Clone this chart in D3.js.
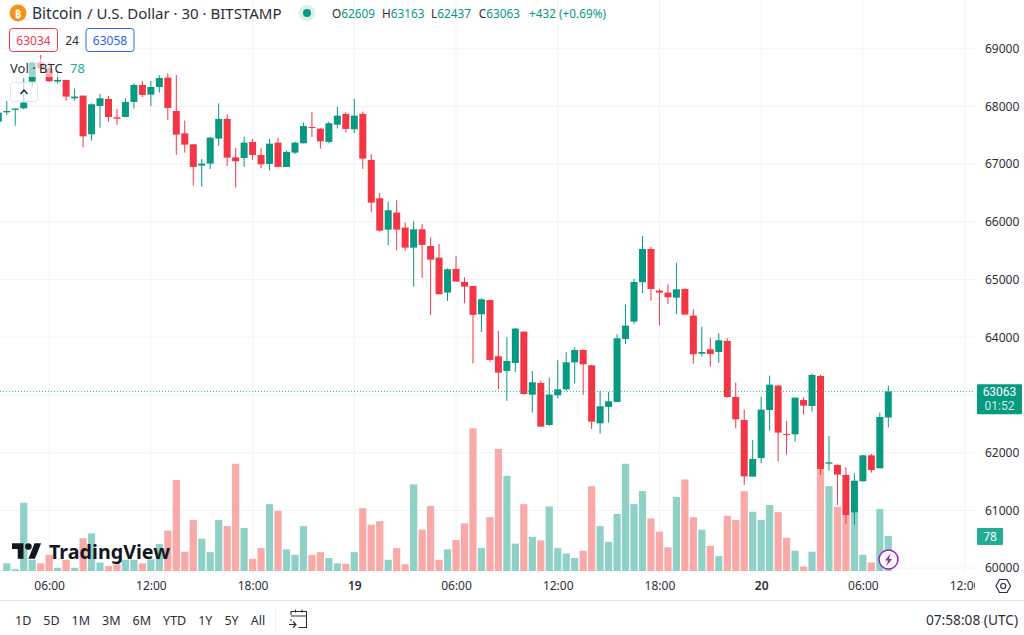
<!DOCTYPE html>
<html>
<head>
<meta charset="utf-8">
<script src="https://cdn.jsdelivr.net/npm/d3@7"></script>
<style>
  html, body { margin: 0; padding: 0; background: #fff; overflow: hidden; }
  text { font-family: "Noto Sans", sans-serif; fill: #2a2e39; }
  .domain { display: none; }
</style>
</head>
<body>
<div id="chart"></div>
<script>
var opens = [67736,67898,67939,67967,68430,68759,68661,68430,68459,68141,68187,67517,68008,68129,67811,67817,68077,68372,68204,68337,68499,67921,67534,67344,66974,67009,67442,67783,67118,67107,67384,67159,67003,67372,66951,67199,67361,67644,67615,67384,67684,67870,67604,67870,67073,66408,65865,66160,65900,65553,65871,65582,65380,64774,65184,64958,64889,64398,64646,63670,63416,63555,64098,63006,63208,62480,62994,63098,63566,63780,63514,62509,62792,62879,63971,64271,64953,65530,64808,64774,64687,64837,64375,63716,63792,63745,63936,62965,62567,61585,61908,62740,63162,62324,62318,62913,62809,63329,61810,61787,61614,60961,61504,61954,61729,62609];
var highs = [67910,68095,67967,68487,68776,68892,68759,68603,68459,68308,68187,68054,68216,68181,67956,68141,68401,68441,68441,68539,68574,68545,67754,67344,67089,67476,68054,67863,67280,67476,67436,67274,67436,67459,67234,67390,67719,67904,67627,67736,67996,67899,68130,67910,67171,66501,66351,66374,65987,66010,65964,65727,65617,65195,65409,65039,64889,64675,64646,64109,63999,64161,64098,63416,63248,63300,63601,63740,63826,63792,63526,63069,63052,64051,64566,65010,65756,65565,64837,64918,65294,64849,64485,64184,63994,64069,63982,63214,62746,62220,62965,63335,63173,62549,62954,62960,63370,63347,62289,61798,61746,61642,61960,61978,62694,63163];
var lows = [67736,67852,67667,67950,68331,68603,68430,68389,68100,68100,67292,67407,67632,67736,67679,67817,67962,68164,68008,68239,67765,67159,67199,66627,66610,66916,67315,66968,66593,66951,67072,66928,66893,66945,66951,67176,67361,67471,67268,67361,67621,67547,67535,66917,66166,65831,65594,65507,65501,64878,65028,64387,64745,64629,64964,64589,63549,64092,63578,63098,62896,63399,63006,62694,62451,62469,62942,63064,63202,63006,62411,62330,62521,62879,63884,64231,64768,64635,64207,64577,64398,64392,63543,63664,63491,63555,62954,62422,61440,61585,61816,62382,61850,61966,62191,62659,62711,61614,61689,61094,60764,60753,61498,61654,61729,62437];
var closes = [67892,67921,67962,68066,68759,68661,68435,68459,68170,68170,67482,68037,68141,67817,67788,68077,68372,68199,68337,68493,67973,67511,67338,66951,67009,67459,67783,67112,67049,67372,67159,66997,67355,66951,67211,67372,67661,67627,67396,67708,67840,67610,67841,67096,66333,65848,66201,65865,65553,65871,65600,65345,64745,65178,64964,64878,64387,64658,63607,63387,63589,64150,63017,63220,62451,63006,63098,63566,63780,63532,62538,62804,62890,63982,64202,64958,65530,64837,64774,64693,64831,64392,63705,63745,63711,63948,62965,62578,61590,61891,62746,63179,62347,62307,62954,62815,63347,61718,61833,61619,60920,61515,61954,61700,62619,63063];
var volumes = [1,17,4,152,25,17,36,7,25,7,73,84,19,11,15,25,25,17,26,60,90,203,43,114,72,42,114,100,239,96,27,51,149,134,48,36,100,36,42,29,17,16,42,140,103,111,25,51,15,193,92,145,25,48,69,106,318,51,120,272,212,61,149,76,68,144,51,39,29,45,189,100,65,127,239,149,178,117,88,53,165,204,120,92,56,33,123,114,178,132,114,147,131,74,45,10,43,227,189,143,125,129,36,19,138,78];

var priceTicks = [60000,61000,62000,63000,64000,65000,66000,67000,68000,69000];
var priceLabels = [60000,61000,62000,64000,65000,66000,67000,68000,69000]; // 63000 sits under the last price tag
var timeTickBars = [6,18,30,42,54,66,78,90,102,114];
var timeTickLabels = ['06:00','12:00','18:00','19','06:00','12:00','18:00','20','06:00','12:00'];
var rangeLabels = ['1D','5D','1M','3M','6M','YTD','1Y','5Y','All'];
var ohlcLabels = ['O','H','L','C'];
var ohlcValues = ['62609','63163','62437','63063'];
var ohlcGaps = [0,7,6.6,7.7];
var lastPrice = 63063;
var lastVolume = 78;

var green = '#089981', red = '#f23645';
var paneRight = 975, paneBottom = 573;

var x = d3.scaleLinear().domain([0, 114]).range([-1.7, 964.6]);
var y = d3.scaleLinear().domain([60000, 69000]).range([568.1, 48.7]);
var yVol = d3.scaleLinear().domain([0, lastVolume]).range([571, 536]);

var svg = d3.select('#chart').append('svg')
  .attr('width', 1024)
  .attr('height', 635)
  .style('display', 'block');

var defs = svg.append('defs');
defs.append('clipPath').attr('id', 'pane').append('rect')
  .attr('width', paneRight).attr('height', paneBottom);
defs.append('clipPath').attr('id', 'timeclip').append('rect')
  .attr('y', paneBottom).attr('width', paneRight).attr('height', 27);
defs.append('clipPath').attr('id', 'priceclip').append('rect')
  .attr('x', paneRight).attr('width', 49).attr('height', paneBottom);

// grid
var grid = svg.append('g').attr('clip-path', 'url(#pane)');
grid.selectAll('.hgrid').data(priceTicks).enter().append('line')
  .attr('class', 'hgrid')
  .attr('x1', 0).attr('x2', paneRight)
  .attr('y1', function(d){ return y(d); })
  .attr('y2', function(d){ return y(d); })
  .attr('stroke', '#f2f3f5');
grid.selectAll('.vgrid').data(timeTickBars).enter().append('line')
  .attr('class', 'vgrid')
  .attr('y1', 0).attr('y2', paneBottom)
  .attr('x1', function(d){ return x(d); })
  .attr('x2', function(d){ return x(d); })
  .attr('stroke', '#f2f3f5');

// volume bars
var isUp = function(i){ return closes[i] >= opens[i]; };
var barIdx = d3.range(opens.length);

var pane = svg.append('g').attr('clip-path', 'url(#pane)');
pane.selectAll('.vol').data(barIdx).enter().append('rect')
  .attr('class', 'vol')
  .attr('x', function(i){ return x(i) - 3.6; })
  .attr('width', 7.2)
  .attr('y', function(i){ return yVol(volumes[i]); })
  .attr('height', function(i){ return yVol(0) - yVol(volumes[i]); })
  .attr('fill', function(i){ return isUp(i) ? '#8fd1c7' : '#f8a9a8'; });

// watermark
var logo = svg.append('g').attr('transform', 'translate(12,540)');
logo.append('path')
  .attr('transform', 'scale(0.82)')
  .attr('d', 'M14 23H7V11H0V4h14v19zM28 23h-8l7.5-19h8L28 23z')
  .attr('fill', '#131722');
logo.append('circle').attr('cx', 16.4).attr('cy', 6.6).attr('r', 3.3).attr('fill', '#131722');
logo.append('text')
  .attr('x', 37).attr('y', 19)
  .attr('font-size', 19.7)
  .attr('font-weight', 700)
  .style('fill', '#131722')
  .text('TradingView');

// candles
var candles = pane.selectAll('.candle').data(barIdx).enter().append('g').attr('class', 'candle');
candles.append('line')
  .attr('x1', function(i){ return x(i); })
  .attr('x2', function(i){ return x(i); })
  .attr('y1', function(i){ return y(highs[i]); })
  .attr('y2', function(i){ return y(lows[i]); })
  .attr('stroke', function(i){ return isUp(i) ? green : red; });
candles.append('rect')
  .attr('x', function(i){ return x(i) - 3.5; })
  .attr('width', 7)
  .attr('y', function(i){ return y(Math.max(opens[i], closes[i])); })
  .attr('height', function(i){ return Math.max(1, Math.abs(y(opens[i]) - y(closes[i]))); })
  .attr('fill', function(i){ return isUp(i) ? green : red; });

// last price line
var lastY = Math.round(y(lastPrice)) + 0.5;
svg.append('line')
  .attr('x1', 0).attr('x2', paneRight)
  .attr('y1', lastY).attr('y2', lastY)
  .attr('stroke', '#22ab94')
  .attr('stroke-opacity', 0.85)
  .attr('stroke-dasharray', '1 2');

// price axis
var priceAxis = svg.append('g')
  .attr('clip-path', 'url(#priceclip)')
  .append('g')
  .attr('transform', 'translate(' + paneRight + ',0)')
  .call(d3.axisRight(y).tickValues(priceLabels).tickFormat(d3.format('d')).tickSize(0).tickPadding(10));
priceAxis.selectAll('text').attr('font-size', 12).attr('font-family', null);

// time axis
var timeAxis = svg.append('g')
  .attr('clip-path', 'url(#timeclip)')
  .append('g')
  .attr('transform', 'translate(0,' + paneBottom + ')')
  .call(d3.axisBottom(x).tickValues(timeTickBars)
    .tickFormat(function(d, i){ return timeTickLabels[i]; })
    .tickSize(0).tickPadding(8));
timeAxis.selectAll('text')
  .attr('font-size', 12).attr('font-family', null)
  .attr('font-weight', function(d, i){ return timeTickLabels[i].length == 2 ? 600 : 400; });

// last price tag
var tag = svg.append('g');
tag.append('rect').attr('x', 977).attr('y', y(lastPrice) - 7).attr('width', 45).attr('height', 30).attr('rx', 1).attr('fill', green);
tag.append('text').attr('x', 999.5).attr('y', y(lastPrice) + 5).attr('text-anchor', 'middle')
  .attr('font-size', 12).style('font-family', 'Roboto').style('fill', '#fff').text(lastPrice);
tag.append('text').attr('x', 999.5).attr('y', y(lastPrice) + 19).attr('text-anchor', 'middle')
  .attr('font-size', 12).style('font-family', 'Roboto').style('fill', '#c9ebe5').text('01:52');

// volume tag
var volTag = svg.append('g');
volTag.append('rect').attr('x', 977).attr('y', yVol(lastVolume) - 8).attr('width', 26).attr('height', 17).attr('rx', 1).attr('fill', '#22ab94');
volTag.append('text').attr('x', 990).attr('y', yVol(lastVolume) + 5).attr('text-anchor', 'middle')
  .attr('font-size', 12).style('fill', '#fff').text(lastVolume);

// header
svg.append('circle').attr('cx', 18).attr('cy', 13).attr('r', 8.5).attr('fill', '#f7931a');
svg.append('text').attr('x', 18).attr('y', 17.5).attr('text-anchor', 'middle')
  .attr('font-size', 11).attr('font-weight', 700).style('fill', '#fff').text('₿');
svg.append('text').attr('x', 32).attr('y', 18.5).attr('font-size', 15.5).text('Bitcoin');
svg.append('text').attr('x', 87).attr('y', 18.5).attr('font-size', 15).text('/ U.S. Dollar · 30 · BITSTAMP');
svg.append('circle').attr('cx', 307).attr('cy', 13).attr('r', 8).attr('fill', '#d9f0ec');
svg.append('circle').attr('cx', 307).attr('cy', 13).attr('r', 4).attr('fill', green);

var ohlc = svg.append('text').attr('x', 332).attr('y', 17.5).attr('font-size', 11.8);
ohlcLabels.forEach(function(label, i){
  ohlc.append('tspan').attr('dx', ohlcGaps[i]).text(label);
  ohlc.append('tspan').style('fill', green).text(ohlcValues[i]);
});
ohlc.append('tspan').attr('dx', 9).style('fill', green).text('+432 (+0.69%)');

// bid / ask boxes
svg.append('rect').attr('x', 9.5).attr('y', 28.5).attr('width', 48).attr('height', 23).attr('rx', 3)
  .attr('fill', '#fff').attr('stroke', red);
svg.append('text').attr('x', 33.5).attr('y', 44.5).attr('text-anchor', 'middle')
  .attr('font-size', 12).style('fill', red).text('63034');
svg.append('text').attr('x', 72).attr('y', 44.5).attr('text-anchor', 'middle')
  .attr('font-size', 12).text('24');
svg.append('rect').attr('x', 86).attr('y', 28.5).attr('width', 48).attr('height', 23).attr('rx', 3)
  .attr('fill', '#fff').attr('stroke', '#2962ff');
svg.append('text').attr('x', 110).attr('y', 44.5).attr('text-anchor', 'middle')
  .attr('font-size', 12).style('fill', '#2962ff').text('63058');

// volume legend and collapse button
svg.append('rect').attr('x', 8).attr('y', 59).attr('width', 80).attr('height', 18).attr('fill', '#fff').attr('opacity', 0.6);
svg.append('text').attr('x', 10).attr('y', 72.5).attr('font-size', 13).text('Vol · BTC');
svg.append('text').attr('x', 70).attr('y', 72.5).attr('font-size', 13).style('fill', '#22ab94').text(lastVolume);
svg.append('rect').attr('x', 10.5).attr('y', 82.5).attr('width', 27).attr('height', 19).attr('rx', 3)
  .attr('fill', '#fff').attr('fill-opacity', 0.65).attr('stroke', '#e0e3eb');
svg.append('path').attr('d', 'M20.5 94l3.5-4 3.5 4').attr('fill', 'none').attr('stroke', '#131722').attr('stroke-width', 1.3);

// lightning badge
svg.append('circle').attr('cx', 888.5).attr('cy', 559.5).attr('r', 9.5).attr('fill', '#fff').attr('stroke', '#9c27b0').attr('stroke-width', 1.5);
svg.append('path').attr('d', 'M890.5 553.5l-5.5 7h3l-1.5 5.5 5.5-7h-3z').attr('fill', '#9c27b0');

// settings icon
svg.append('path').attr('d', 'M996 586l3.5-6.5h7.5l3.5 6.5-3.5 6.5h-7.5z').attr('fill', 'none').attr('stroke', '#2a2e39').attr('stroke-width', 1.2);
svg.append('circle').attr('cx', 1003.2).attr('cy', 586).attr('r', 2.5).attr('fill', 'none').attr('stroke', '#2a2e39').attr('stroke-width', 1.2);

// bottom toolbar
svg.append('line').attr('x1', 0).attr('x2', 1024).attr('y1', 600.5).attr('y2', 600.5).attr('stroke', '#e0e3eb');
var bx = 15;
rangeLabels.forEach(function(label){
  var t = svg.append('text').attr('x', bx).attr('y', 625).attr('font-size', 12.5).text(label);
  bx += t.node().getComputedTextLength() + 12;
});
svg.append('line').attr('x1', 275.5).attr('x2', 275.5).attr('y1', 608).attr('y2', 632).attr('stroke', '#f0f3fa');
svg.append('path')
  .attr('d', 'M291 615v-3.5h15.5v16h-8M291 616h15.5M295.5 609.5v3M302 609.5v3M289 624.5h6.5M293 621.5l3 3-3 3M291 619v2')
  .attr('fill', 'none').attr('stroke', '#2a2e39').attr('stroke-width', 1.1);
svg.append('text').attr('x', 1018).attr('y', 625).attr('text-anchor', 'end').attr('font-size', 13.7).text('07:58:08 (UTC)');
</script>
</body>
</html>
